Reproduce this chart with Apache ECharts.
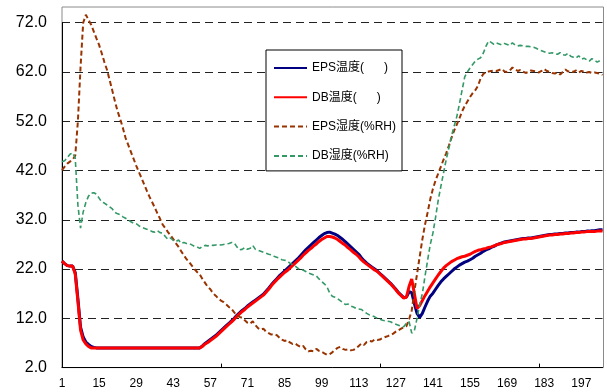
<!DOCTYPE html>
<html>
<head>
<meta charset="utf-8">
<style>
  html, body { margin: 0; padding: 0; background: #fff; }
  #chart { width: 607px; height: 392px; }
</style>
<script src="https://cdn.jsdelivr.net/npm/echarts@6/dist/echarts.min.js"></script>
</head>
<body>
<div id="chart"></div>
<script>
// Sample index along the horizontal axis (1 … 205)
const categories = Array.from({ length: 205 }, (_, i) => String(i + 1));

// Value-axis range and step
const yMin = 2.0;
const yMax = 72.0;
const yStep = 10;

// EPS temperature
const epsTemp = [
  23.6,23.1,22.7,22.6,22.6,21.3,16.0,10.2,8.2,7.2,
  6.7,6.3,6.1,6.0,6.0,6.0,6.0,6.0,6.0,6.0,
  6.0,6.0,6.0,6.0,6.0,6.0,6.0,6.0,6.0,6.0,
  6.0,6.0,6.0,6.0,6.0,6.0,6.0,6.0,6.0,6.0,
  6.0,6.0,6.0,6.0,6.0,6.0,6.0,6.0,6.0,6.0,
  6.0,6.0,6.0,6.4,6.9,7.3,7.7,8.1,8.5,9.0,
  9.5,10.0,10.5,11.0,11.5,12.0,12.6,13.1,13.6,14.0,
  14.5,14.9,15.3,15.7,16.1,16.5,16.9,17.5,18.1,18.8,
  19.4,20.0,20.6,21.1,21.6,22.1,22.6,23.1,23.6,24.1,
  24.7,25.3,25.9,26.4,26.9,27.4,27.9,28.4,28.8,29.2,
  29.4,29.5,29.3,29.1,28.8,28.4,28.0,27.5,27.0,26.5,
  26.0,25.5,25.0,24.3,23.7,23.2,22.8,22.4,22.0,21.6,
  21.1,20.6,20.1,19.6,19.1,18.5,17.9,17.2,16.7,16.2,
  16.3,17.4,17.2,15.0,13.0,12.2,13.0,14.3,15.5,16.5,
  17.1,17.9,18.7,19.4,20.0,20.5,21.0,21.5,22.0,22.4,
  22.8,23.1,23.4,23.6,23.9,24.2,24.6,24.9,25.2,25.6,
  25.9,26.1,26.4,26.6,26.9,27.1,27.3,27.5,27.6,27.7,
  27.8,27.9,28.0,28.1,28.2,28.2,28.3,28.3,28.4,28.5,
  28.6,28.7,28.8,28.9,29.0,29.0,29.1,29.1,29.2,29.2,
  29.3,29.3,29.4,29.4,29.5,29.5,29.6,29.6,29.7,29.7,
  29.8,29.8,29.9,30.0,30.0
];

// DB temperature
const dbTemp = [
  23.6,23.1,22.7,22.6,22.6,21.0,15.5,9.6,7.6,6.8,
  6.3,6.0,6.0,6.0,6.0,6.0,6.0,6.0,6.0,6.0,
  6.0,6.0,6.0,6.0,6.0,6.0,6.0,6.0,6.0,6.0,
  6.0,6.0,6.0,6.0,6.0,6.0,6.0,6.0,6.0,6.0,
  6.0,6.0,6.0,6.0,6.0,6.0,6.0,6.0,6.0,6.0,
  6.0,6.0,6.0,6.3,6.8,7.1,7.5,7.9,8.3,8.8,
  9.3,9.8,10.3,10.8,11.3,11.8,12.4,12.9,13.4,13.8,
  14.3,14.7,15.1,15.5,15.9,16.3,16.7,17.3,17.9,18.6,
  19.2,19.8,20.3,20.8,21.3,21.7,22.2,22.7,23.2,23.7,
  24.2,24.8,25.3,25.8,26.2,26.7,27.1,27.6,28.0,28.3,
  28.6,28.6,28.5,28.3,28.0,27.6,27.2,26.8,26.3,25.9,
  25.4,25.0,24.5,23.9,23.4,23.0,22.6,22.2,21.8,21.5,
  21.0,20.5,20.0,19.5,19.0,18.4,17.8,17.1,16.6,16.1,
  16.3,18.5,20.0,17.0,14.0,14.6,15.6,16.6,17.5,18.4,
  19.2,20.0,20.8,21.5,22.2,22.7,23.1,23.5,23.8,24.1,
  24.3,24.5,24.6,24.8,25.0,25.3,25.6,25.8,25.9,26.1,
  26.2,26.4,26.5,26.7,26.9,27.1,27.2,27.4,27.5,27.6,
  27.7,27.8,27.9,28.0,28.1,28.1,28.2,28.2,28.3,28.4,
  28.5,28.6,28.7,28.8,28.9,28.9,29.0,29.0,29.1,29.1,
  29.2,29.2,29.3,29.3,29.4,29.4,29.5,29.5,29.6,29.6,
  29.6,29.6,29.7,29.7,29.7
];

// EPS humidity (%RH)
const epsHum = [
  42.1,42.8,43.4,43.8,44.2,45.0,52.0,63.0,72.0,73.6,
  72.6,71.6,70.2,68.8,67.5,65.8,64.0,62.4,60.3,58.2,
  56.0,54.0,52.4,50.6,48.6,47.2,45.8,44.4,43.0,41.7,
  40.5,39.2,37.9,36.7,35.6,34.5,33.3,32.2,31.0,30.3,
  29.5,28.8,28.1,27.2,26.5,25.6,24.8,24.0,23.4,22.7,
  22.0,21.4,20.9,20.0,19.2,18.4,17.9,17.1,16.6,16.0,
  15.6,15.3,14.8,14.3,13.9,13.2,12.6,12.3,12.1,11.6,
  11.1,10.9,11.4,10.6,10.0,9.7,9.9,9.3,9.0,8.7,
  8.8,8.6,8.1,7.7,7.4,7.6,7.1,6.8,6.9,6.5,
  6.2,6.4,5.7,5.3,5.4,5.3,5.8,5.4,5.2,4.9,
  4.6,4.7,5.1,5.6,6.0,6.2,5.8,5.6,5.7,5.5,
  5.6,5.9,6.4,6.9,6.6,7.2,7.4,7.3,7.7,7.6,
  7.7,8.0,8.2,8.4,8.6,8.9,9.3,9.6,9.9,10.2,
  10.4,11.8,13.6,17.5,21.0,24.5,28.0,31.0,33.5,36.2,
  38.3,40.0,41.4,42.8,44.2,45.5,47.0,48.6,50.1,51.3,
  52.6,54.0,55.1,56.0,56.9,57.7,58.3,59.2,60.7,61.6,
  61.9,62.1,62.2,62.3,62.2,62.4,62.6,62.1,62.0,62.3,
  62.9,62.6,62.2,62.4,62.1,61.8,62.0,62.3,62.2,62.1,
  61.9,62.2,62.6,62.2,62.0,61.8,61.7,61.9,61.5,62.0,
  62.5,62.1,62.2,62.0,62.3,61.9,62.2,62.1,61.9,62.0,
  61.8,61.9,61.8,61.6,61.4
];

// DB humidity (%RH)
const dbHum = [
  43.8,44.0,44.6,45.3,45.6,44.5,35.0,30.3,33.6,35.5,
  36.8,37.4,37.5,37.2,36.4,35.6,35.4,35.0,34.6,34.2,
  33.5,33.2,33.0,32.6,32.3,32.0,31.6,31.3,31.2,30.8,
  30.5,30.3,30.1,29.9,29.6,29.5,29.8,29.4,29.3,28.6,
  28.0,28.3,27.8,27.6,27.9,27.2,27.4,27.2,27.2,26.9,
  26.6,26.5,26.2,26.6,26.8,26.7,26.9,26.8,26.9,27.0,
  26.9,27.0,27.1,27.2,27.4,27.3,26.5,25.9,26.0,26.4,
  26.0,26.2,26.8,26.0,25.8,25.6,25.4,25.2,25.0,24.9,
  24.6,24.4,24.2,23.9,23.8,23.6,23.2,22.9,22.6,22.2,
  21.8,21.8,21.5,21.2,21.0,20.8,20.6,20.0,19.5,19.0,
  18.4,17.2,16.5,16.3,16.0,15.6,15.2,14.8,14.9,14.5,
  14.3,14.0,13.9,13.8,13.4,13.0,12.7,12.5,12.3,12.0,
  11.8,11.6,11.5,11.4,11.3,11.0,10.8,10.6,10.4,10.3,
  11.0,11.3,9.0,9.5,12.0,14.8,17.0,20.5,23.8,27.0,
  29.3,32.5,36.0,38.8,41.5,44.2,46.5,49.0,51.0,52.9,
  55.5,58.3,61.0,62.0,62.8,63.5,64.2,64.6,64.9,65.8,
  67.2,68.3,68.0,67.6,67.9,67.7,67.5,67.8,67.6,67.4,
  67.9,67.5,67.3,67.4,67.3,67.2,67.2,67.1,67.0,66.8,
  66.5,66.3,66.1,65.9,65.8,65.9,65.7,65.6,65.9,65.5,
  65.4,65.8,65.2,65.0,64.8,65.3,64.6,64.8,64.5,64.2,
  64.7,64.4,64.0,64.3,64.1
];

const seriesNames = ['EPS温度(      )', 'DB温度(      )', 'EPS湿度(%RH)', 'DB湿度(%RH)'];

const chart = echarts.init(document.getElementById('chart'), null, { renderer: 'canvas' });

chart.setOption({
  animation: false,
  backgroundColor: '#ffffff',
  grid: { left: 62, top: 22.7, right: 4.5, bottom: 24.4, containLabel: false },
  // plot-area frame (top/right edges in grey; axis lines drawn over left/bottom)
  graphic: [{
    type: 'rect',
    z: 0,
    silent: true,
    shape: { x: 62, y: 7, width: 541.5, height: 360.6 },
    style: { fill: 'none', stroke: '#8a8a8a', lineWidth: 1 }
  }],
  legend: {
    orient: 'vertical',
    left: 266,
    top: 50,
    padding: [12, 6, 9, 7],
    itemWidth: 33,
    itemHeight: 14,
    itemGap: 17.3,
    backgroundColor: '#ffffff',
    borderColor: '#000000',
    borderWidth: 1,
    borderRadius: 0,
    itemStyle: { opacity: 0 },
    textStyle: {
      fontSize: 12,
      color: '#000',
      fontFamily: '"Liberation Sans", "Noto Sans CJK SC", sans-serif'
    },
    data: seriesNames
  },
  xAxis: {
    type: 'category',
    data: categories,
    boundaryGap: false,
    axisLine: { lineStyle: { color: '#000', width: 1 } },
    axisTick: {
      inside: true,
      length: 4,
      interval: (idx) => idx > 0 && idx % 60 === 0,
      lineStyle: { color: '#000' }
    },
    axisLabel: {
      interval: 13,
      margin: 10,
      fontSize: 12,
      color: '#000',
      fontFamily: '"Liberation Sans", Arial, sans-serif'
    },
    splitLine: { show: false }
  },
  yAxis: {
    type: 'value',
    min: yMin,
    max: yMax,
    interval: yStep,
    axisLine: { show: true, lineStyle: { color: '#000', width: 1 } },
    axisTick: { show: false },
    axisLabel: {
      margin: 15,
      fontSize: 16,
      color: '#000',
      fontFamily: '"Liberation Sans", Arial, sans-serif',
      formatter: (v) => v.toFixed(1)
    },
    splitLine: { show: true, lineStyle: { color: '#222', width: 1, type: [8, 5] } }
  },
  series: [
    {
      name: seriesNames[0], type: 'line', data: epsTemp, symbol: 'none', clip: false,
      lineStyle: { color: '#000080', width: 3 }, itemStyle: { color: '#000080' }
    },
    {
      name: seriesNames[1], type: 'line', data: dbTemp, symbol: 'none', clip: false,
      lineStyle: { color: '#ff0000', width: 3 }, itemStyle: { color: '#ff0000' }
    },
    {
      name: seriesNames[2], type: 'line', data: epsHum, symbol: 'none', clip: false,
      lineStyle: { color: '#993300', width: 2, type: [5, 3] }, itemStyle: { color: '#993300' }
    },
    {
      name: seriesNames[3], type: 'line', data: dbHum, symbol: 'none', clip: false,
      lineStyle: { color: '#339966', width: 1.6, type: [5, 3] }, itemStyle: { color: '#339966' }
    }
  ]
});
</script>
</body>
</html>
